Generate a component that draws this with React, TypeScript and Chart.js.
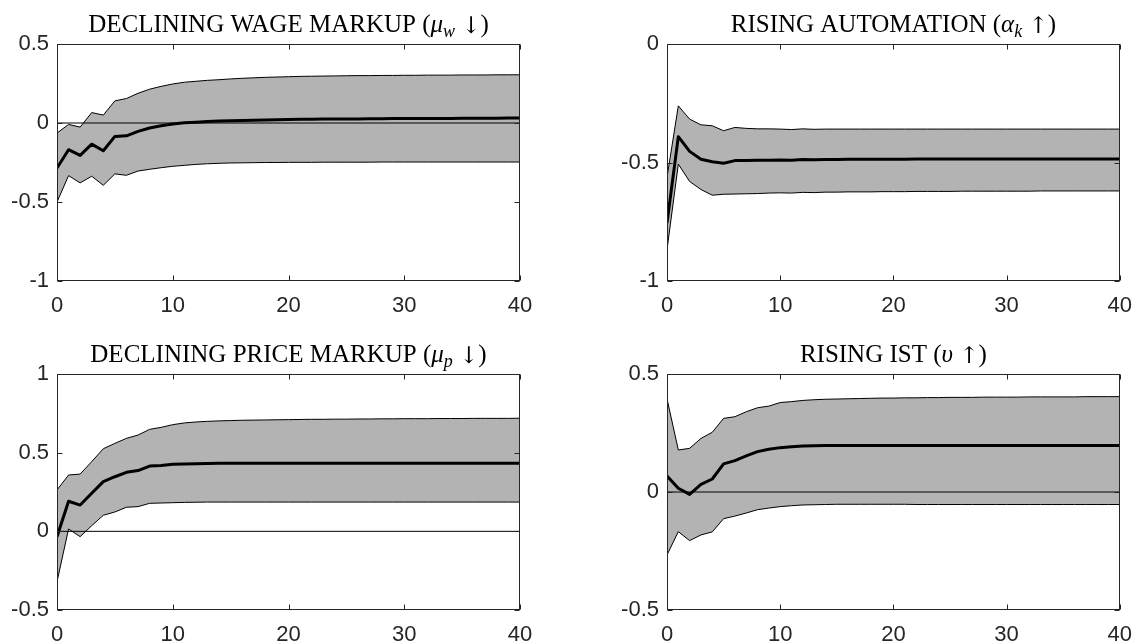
import React, { useEffect, useRef } from "react";
import { Chart, registerables } from "chart.js";

Chart.register(...registerables);

// Impulse responses over horizons 0..40: median path and confidence band.

// Declining wage markup
const WAGE_MEDIAN = [
  -0.285, -0.169, -0.205, -0.134, -0.176, -0.085, -0.081, -0.053, -0.032, -0.018,
  -0.007, 0.001, 0.005, 0.009, 0.012, 0.014, 0.016, 0.018, 0.019, 0.021,
  0.022, 0.023, 0.024, 0.025, 0.025, 0.026, 0.026, 0.027, 0.027, 0.028,
  0.028, 0.028, 0.029, 0.029, 0.029, 0.030, 0.030, 0.030, 0.030, 0.031, 0.031,
];
const WAGE_UPPER = [
  -0.064, -0.009, -0.026, 0.066, 0.05, 0.14, 0.155, 0.188, 0.214, 0.232,
  0.247, 0.258, 0.264, 0.27, 0.274, 0.279, 0.283, 0.286, 0.289, 0.291,
  0.293, 0.295, 0.296, 0.297, 0.298, 0.299, 0.3, 0.3, 0.301, 0.301,
  0.302, 0.302, 0.303, 0.303, 0.303, 0.304, 0.304, 0.304, 0.305, 0.305, 0.305,
];
const WAGE_LOWER = [
  -0.5, -0.333, -0.379, -0.337, -0.394, -0.322, -0.331, -0.304, -0.293, -0.283,
  -0.274, -0.268, -0.262, -0.258, -0.255, -0.253, -0.252, -0.251, -0.25, -0.25,
  -0.249, -0.249, -0.249, -0.248, -0.248, -0.248, -0.248, -0.248, -0.247, -0.247,
  -0.247, -0.247, -0.247, -0.247, -0.247, -0.247, -0.247, -0.247, -0.247, -0.247, -0.247,
];

// Rising automation
const AUTO_MEDIAN = [
  -0.755, -0.391, -0.453, -0.486, -0.497, -0.503, -0.492, -0.492, -0.49, -0.49,
  -0.489, -0.49, -0.487, -0.488, -0.487, -0.487, -0.486, -0.486, -0.486, -0.486,
  -0.486, -0.486, -0.485, -0.485, -0.485, -0.485, -0.485, -0.485, -0.485, -0.485,
  -0.485, -0.485, -0.485, -0.485, -0.485, -0.485, -0.485, -0.485, -0.485, -0.485, -0.485,
];
const AUTO_UPPER = [
  -0.563, -0.261, -0.317, -0.341, -0.345, -0.366, -0.352, -0.356, -0.358, -0.358,
  -0.359, -0.361, -0.358, -0.36, -0.359, -0.359, -0.359, -0.359, -0.359, -0.359,
  -0.359, -0.359, -0.359, -0.359, -0.359, -0.359, -0.359, -0.359, -0.359, -0.359,
  -0.359, -0.359, -0.359, -0.359, -0.359, -0.359, -0.359, -0.359, -0.359, -0.359, -0.359,
];
const AUTO_LOWER = [
  -0.868, -0.507, -0.58, -0.614, -0.638, -0.634, -0.633, -0.632, -0.631, -0.629,
  -0.628, -0.629, -0.626, -0.627, -0.625, -0.625, -0.624, -0.624, -0.624, -0.623,
  -0.623, -0.623, -0.622, -0.622, -0.622, -0.622, -0.621, -0.621, -0.621, -0.621,
  -0.621, -0.621, -0.621, -0.62, -0.62, -0.62, -0.62, -0.62, -0.62, -0.62, -0.62,
];

// Declining price markup
const PRICE_MEDIAN = [
  -0.034, 0.191, 0.167, 0.242, 0.316, 0.347, 0.375, 0.386, 0.415, 0.419,
  0.426, 0.428, 0.43, 0.431, 0.432, 0.432, 0.432, 0.432, 0.432, 0.432,
  0.432, 0.432, 0.432, 0.432, 0.432, 0.432, 0.432, 0.432, 0.432, 0.432,
  0.432, 0.432, 0.432, 0.432, 0.432, 0.432, 0.432, 0.432, 0.432, 0.432, 0.432,
];
const PRICE_UPPER = [
  0.263, 0.358, 0.364, 0.443, 0.525, 0.559, 0.591, 0.612, 0.648, 0.661,
  0.678, 0.689, 0.695, 0.699, 0.702, 0.704, 0.706, 0.707, 0.708, 0.709,
  0.71, 0.711, 0.712, 0.712, 0.713, 0.713, 0.714, 0.714, 0.715, 0.715,
  0.716, 0.716, 0.716, 0.717, 0.717, 0.717, 0.718, 0.718, 0.718, 0.718, 0.719,
];
const PRICE_LOWER = [
  -0.32, 0.015, -0.034, 0.036, 0.102, 0.123, 0.153, 0.157, 0.178, 0.18,
  0.182, 0.184, 0.185, 0.186, 0.186, 0.186, 0.186, 0.186, 0.186, 0.186,
  0.186, 0.186, 0.186, 0.186, 0.186, 0.186, 0.186, 0.186, 0.186, 0.186,
  0.186, 0.186, 0.186, 0.186, 0.186, 0.186, 0.186, 0.186, 0.186, 0.186, 0.186,
];

// Rising investment-specific technology
const IST_MEDIAN = [
  0.068, 0.016, -0.01, 0.032, 0.055, 0.119, 0.133, 0.153, 0.171, 0.181,
  0.188, 0.192, 0.195, 0.196, 0.197, 0.197, 0.197, 0.197, 0.197, 0.197,
  0.197, 0.197, 0.197, 0.197, 0.197, 0.197, 0.197, 0.197, 0.197, 0.197,
  0.197, 0.197, 0.197, 0.197, 0.197, 0.197, 0.197, 0.197, 0.197, 0.197, 0.197,
];
const IST_UPPER = [
  0.395, 0.178, 0.185, 0.227, 0.253, 0.312, 0.319, 0.34, 0.357, 0.364,
  0.379, 0.383, 0.388, 0.391, 0.393, 0.394, 0.395, 0.396, 0.397, 0.398,
  0.398, 0.399, 0.399, 0.4, 0.4, 0.401, 0.401, 0.401, 0.402, 0.402,
  0.402, 0.402, 0.403, 0.403, 0.403, 0.403, 0.403, 0.404, 0.404, 0.404, 0.404,
];
const IST_LOWER = [
  -0.267, -0.168, -0.206, -0.182, -0.169, -0.113, -0.102, -0.089, -0.075, -0.068,
  -0.062, -0.058, -0.055, -0.054, -0.053, -0.052, -0.052, -0.052, -0.052, -0.052,
  -0.052, -0.052, -0.053, -0.053, -0.053, -0.053, -0.053, -0.053, -0.053, -0.053,
  -0.053, -0.053, -0.053, -0.053, -0.053, -0.053, -0.053, -0.053, -0.053, -0.053, -0.053,
];

const X_MIN = 0;
const X_MAX = 40;
const X_STEP = 10;
const Y_STEP = 0.5;

type Seg = { text: string; italic?: boolean; sub?: boolean; symbol?: boolean };

type Panel = {
  title: Seg[];
  yMin: number;
  yMax: number;
  median: number[];
  upper: number[];
  lower: number[];
  zeroLine: boolean;
};

const PANELS: Panel[] = [
  {
    title: [
      { text: "DECLINING WAGE MARKUP (" },
      { text: "\u03bc", italic: true },
      { text: "w", italic: true, sub: true },
      { text: " " },
      { text: "\u2193", symbol: true },
      { text: ")" },
    ],
    yMin: -1,
    yMax: 0.5,
    median: WAGE_MEDIAN,
    upper: WAGE_UPPER,
    lower: WAGE_LOWER,
    zeroLine: true,
  },
  {
    title: [
      { text: "RISING AUTOMATION (" },
      { text: "\u03b1", italic: true },
      { text: "k", italic: true, sub: true },
      { text: " " },
      { text: "\u2191", symbol: true },
      { text: ")" },
    ],
    yMin: -1,
    yMax: 0,
    median: AUTO_MEDIAN,
    upper: AUTO_UPPER,
    lower: AUTO_LOWER,
    zeroLine: false,
  },
  {
    title: [
      { text: "DECLINING PRICE MARKUP (" },
      { text: "\u03bc", italic: true },
      { text: "p", italic: true, sub: true },
      { text: " " },
      { text: "\u2193", symbol: true },
      { text: ")" },
    ],
    yMin: -0.5,
    yMax: 1,
    median: PRICE_MEDIAN,
    upper: PRICE_UPPER,
    lower: PRICE_LOWER,
    zeroLine: true,
  },
  {
    title: [
      { text: "RISING IST (" },
      { text: "\u03c5", italic: true },
      { text: " " },
      { text: "\u2191", symbol: true },
      { text: ")" },
    ],
    yMin: -0.5,
    yMax: 0.5,
    median: IST_MEDIAN,
    upper: IST_UPPER,
    lower: IST_LOWER,
    zeroLine: true,
  },
];

// Canvas placement (page pixels) and the plot box inside each canvas.
const FRAMES = [
  { left: 0, top: 0, width: 572, height: 321, plotL: 57, plotT: 44, plotR: 520, plotB: 281 },
  { left: 572, top: 0, width: 572, height: 321, plotL: 667, plotT: 44, plotR: 1130, plotB: 281 },
  { left: 0, top: 321, width: 572, height: 322, plotL: 57, plotT: 374, plotR: 520, plotB: 610 },
  { left: 572, top: 321, width: 572, height: 322, plotL: 667, plotT: 374, plotR: 1130, plotB: 610 },
];

const AXIS_COLOR = "#262626";
const BAND_COLOR = "#b3b3b3";
const TICK_FONT = { family: '"Liberation Sans", Arial, Helvetica, sans-serif', size: 22 };
const TITLE_FAMILY = '"Liberation Serif", "DejaVu Serif", serif';
const SYMBOL_FAMILY = '"DejaVu Serif", serif';
const TITLE_SIZE = 25;
const SUB_SIZE = 18;
const SYMBOL_SIZE = 23;
const TICK_LEN = 5;

const toPoints = (values: number[]) => values.map((y, i) => ({ x: i, y }));

// Boxed axes with inward ticks on all four sides, plus a mixed-style title.
const boxedAxes = {
  id: "boxedAxes",
  afterDatasetsDraw(chart: any) {
    const { ctx, chartArea: a, scales } = chart;
    const l = Math.round(a.left) + 0.5;
    const r = Math.round(a.right) - 0.5;
    const t = Math.round(a.top) + 0.5;
    const b = Math.round(a.bottom) - 0.5;
    ctx.save();
    ctx.strokeStyle = AXIS_COLOR;
    ctx.lineWidth = 1;
    ctx.beginPath();
    for (const tk of scales.x.ticks) {
      const px = Math.round(scales.x.getPixelForValue(tk.value)) + 0.5;
      ctx.moveTo(px, b);
      ctx.lineTo(px, b - TICK_LEN);
      ctx.moveTo(px, t);
      ctx.lineTo(px, t + TICK_LEN);
    }
    for (const tk of scales.y.ticks) {
      const py = Math.round(scales.y.getPixelForValue(tk.value)) + 0.5;
      ctx.moveTo(l, py);
      ctx.lineTo(l + TICK_LEN, py);
      ctx.moveTo(r, py);
      ctx.lineTo(r - TICK_LEN, py);
    }
    ctx.stroke();
    ctx.strokeRect(l, t, r - l, b - t);
    ctx.restore();
  },
  afterDraw(chart: any, _args: any, opts: any) {
    const segs: Seg[] = opts.title || [];
    const { ctx, chartArea: a } = chart;
    const fontFor = (s: Seg) => {
      if (s.symbol) return `${SYMBOL_SIZE}px ${SYMBOL_FAMILY}`;
      return `${s.italic ? "italic " : ""}${s.sub ? SUB_SIZE : TITLE_SIZE}px ${TITLE_FAMILY}`;
    };
    ctx.save();
    let total = 0;
    const widths = segs.map((s) => {
      ctx.font = fontFor(s);
      const w = ctx.measureText(s.text).width;
      total += w;
      return w;
    });
    let x = (a.left + a.right) / 2 - total / 2;
    const baseY = a.top - 12;
    ctx.fillStyle = "#000";
    ctx.textBaseline = "alphabetic";
    ctx.textAlign = "left";
    segs.forEach((s, i) => {
      ctx.font = fontFor(s);
      ctx.fillText(s.text, x, s.sub ? baseY + 4.5 : s.symbol ? baseY + 1 : baseY);
      x += widths[i];
    });
    ctx.restore();
  },
};

export default function App() {
  const refs = useRef<(HTMLCanvasElement | null)[]>([]);

  useEffect(() => {
    const charts: Chart[] = [];
    PANELS.forEach((p, i) => {
      const canvas = refs.current[i];
      if (!canvas) return;
      const f = FRAMES[i];
      const yAxisWidth = f.plotL - f.left;
      const xAxisHeight = f.top + f.height - f.plotB;
      const datasets: any[] = [
        {
          data: toPoints(p.median),
          borderColor: "#000",
          borderWidth: 3,
          pointRadius: 0,
          fill: false,
          order: 0,
          borderJoinStyle: "round",
        },
      ];
      if (p.zeroLine) {
        datasets.push({
          data: [
            { x: X_MIN, y: 0 },
            { x: X_MAX, y: 0 },
          ],
          borderColor: "#000",
          borderWidth: 1,
          pointRadius: 0,
          fill: false,
          order: 1,
        });
      }
      datasets.push(
        {
          data: toPoints(p.upper),
          borderColor: "#000",
          borderWidth: 1,
          backgroundColor: BAND_COLOR,
          pointRadius: 0,
          fill: "+1",
          order: 2,
        },
        {
          data: toPoints(p.lower),
          borderColor: "#000",
          borderWidth: 1,
          pointRadius: 0,
          fill: false,
          order: 3,
        }
      );

      const chart = new Chart(canvas, {
        type: "line",
        data: { datasets },
        plugins: [boxedAxes],
        options: {
          animation: false,
          responsive: false,
          devicePixelRatio: 1,
          events: [],
          elements: { line: { tension: 0 } },
          layout: {
            padding: {
              left: 0,
              top: f.plotT - f.top,
              right: f.left + f.width - f.plotR,
              bottom: 0,
            },
          },
          scales: {
            x: {
              type: "linear",
              min: X_MIN,
              max: X_MAX,
              grid: { display: false, drawTicks: false },
              border: { display: false },
              ticks: {
                stepSize: X_STEP,
                color: AXIS_COLOR,
                font: TICK_FONT,
                padding: 12,
                maxRotation: 0,
                autoSkip: false,
                callback: (v: any) => String(v),
              },
              afterFit: (s: any) => {
                s.height = xAxisHeight;
              },
            },
            y: {
              type: "linear",
              min: p.yMin,
              max: p.yMax,
              grid: { display: false, drawTicks: false },
              border: { display: false },
              ticks: {
                stepSize: Y_STEP,
                color: AXIS_COLOR,
                font: TICK_FONT,
                padding: 8,
                callback: (v: any) => String(v),
              },
              afterFit: (s: any) => {
                s.width = yAxisWidth;
              },
            },
          },
          plugins: {
            legend: { display: false },
            tooltip: { enabled: false },
            title: { display: false },
            filler: { drawTime: "beforeDatasetsDraw" },
            boxedAxes: { title: p.title },
          } as any,
        },
      });
      charts.push(chart);
    });
    return () => charts.forEach((c) => c.destroy());
  }, []);

  return (
    <div
      style={{
        position: "fixed",
        left: 0,
        top: 0,
        width: 1144,
        height: 643,
        background: "#fff",
        overflow: "hidden",
      }}
    >
      {FRAMES.map((f, i) => (
        <canvas
          key={i}
          ref={(el) => {
            refs.current[i] = el;
          }}
          width={f.width}
          height={f.height}
          style={{
            position: "absolute",
            left: f.left,
            top: f.top,
            width: f.width,
            height: f.height,
          }}
        />
      ))}
    </div>
  );
}
